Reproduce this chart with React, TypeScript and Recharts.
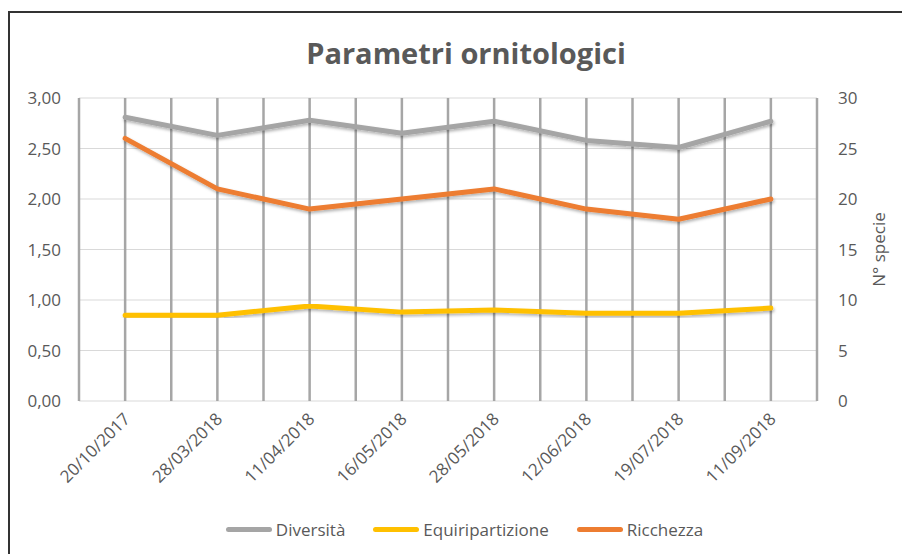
import React from 'react';
import { LineChart, Line, XAxis, YAxis, CartesianGrid, Legend } from 'recharts';

const dates = ['20/10/2017', '28/03/2018', '11/04/2018', '16/05/2018', '28/05/2018', '12/06/2018', '19/07/2018', '11/09/2018'];
const diversita = [2.81, 2.63, 2.78, 2.65, 2.77, 2.58, 2.51, 2.77];
const equiripartizione = [0.85, 0.85, 0.94, 0.88, 0.9, 0.87, 0.87, 0.92];
const ricchezza = [26, 21, 19, 20, 21, 19, 18, 20];
const leftTicks = [0, 0.5, 1, 1.5, 2, 2.5, 3];
const rightTicks = [0, 5, 10, 15, 20, 25, 30];
const seriesNames = ['Diversità', 'Equiripartizione', 'Ricchezza'];
const seriesColors = ['#A5A5A5', '#FFC000', '#ED7D31'];

const data = dates.map((d, i) => ({
  idx: i,
  date: d,
  diversita: diversita[i],
  equiripartizione: equiripartizione[i],
  ricchezza: ricchezza[i],
}));
const catTicks = dates.map((_, i) => i);
const gridTicks = dates.flatMap((_, i) => [i - 0.5, i]).concat([dates.length - 0.5]);

const FONT = "'Open Sans', sans-serif";
const TXT = '#595959';

const XTick = (props: any) => {
  const { x, y, payload } = props;
  return (
    <g transform={`translate(${x + 6},${y - 11})`}>
      <text x={0} y={0} textAnchor="end" transform="rotate(-45)" fill={TXT} fontSize={17} fontFamily={FONT}>
        {dates[payload.value]}
      </text>
    </g>
  );
};

const LegendContent = () => (
  <div style={{ display: 'flex', justifyContent: 'center', alignItems: 'center', height: 24, paddingLeft: 17, fontFamily: FONT, fontSize: 17, color: TXT }}>
    {seriesNames.map((n, i) => (
      <div key={n} style={{ display: 'flex', alignItems: 'center', marginRight: i < seriesNames.length - 1 ? 28 : 0 }}>
        <div style={{ width: 46, height: 5, borderRadius: 3, background: seriesColors[i], marginRight: 4 }} />
        <span>{n}</span>
      </div>
    ))}
  </div>
);

export default function App() {
  return (
    <div>
      <style>{'body{margin:0;overflow:hidden;background:#fff}'}</style>
      <div
        style={{
          position: 'absolute',
          left: 8,
          top: 11,
          width: 900,
          height: 560,
          borderTop: '2px solid #333',
          borderLeft: '2px solid #333',
          background: '#fff',
        }}
      >
        <div
          style={{
            position: 'absolute',
            left: -10,
            top: 20,
            width: 932,
            textAlign: 'center',
            fontFamily: FONT,
            fontWeight: 700,
            fontSize: 29,
            lineHeight: '40px',
            color: TXT,
          }}
        >
          Parametri ornitologici
        </div>
        <LineChart width={892} height={541} data={data} margin={{ top: 85, right: 0, left: 0, bottom: 13 }}>
          <defs>
            <filter id="lineShadow" x="-10%" y="-20%" width="120%" height="150%">
              <feDropShadow dx="1" dy="2" stdDeviation="1.5" floodColor="#000" floodOpacity="0.3" />
            </filter>
          </defs>
          <CartesianGrid yAxisId="left" xAxisId="main" vertical={false} stroke="#D9D9D9" strokeWidth={1} />
          <CartesianGrid yAxisId="left" xAxisId="grid" horizontal={false} stroke="#A6A6A6" strokeWidth={2.5} />
          <XAxis
            xAxisId="main"
            type="number"
            dataKey="idx"
            domain={[-0.5, dates.length - 0.5]}
            ticks={catTicks}
            interval={0}
            tick={<XTick />}
            tickLine={false}
            axisLine={false}
            tickSize={0}
            tickMargin={0}
            height={116}
          />
          <XAxis xAxisId="grid" type="number" dataKey="idx" domain={[-0.5, dates.length - 0.5]} ticks={gridTicks} hide />
          <YAxis
            yAxisId="left"
            orientation="left"
            domain={[0, 3]}
            ticks={leftTicks}
            width={69}
            tickLine={false}
            axisLine={false}
            tickSize={0}
            tickMargin={18}
            tickFormatter={(v: number) => v.toFixed(2).replace('.', ',')}
            tick={{ fill: TXT, fontSize: 17, fontFamily: FONT }}
          />
          <YAxis
            yAxisId="right"
            orientation="right"
            domain={[0, 30]}
            ticks={rightTicks}
            width={85}
            tickLine={false}
            axisLine={false}
            tickSize={0}
            tickMargin={21}
            tick={{ fill: TXT, fontSize: 17, fontFamily: FONT, textAnchor: 'start' }}
            label={{
              content: (p: any) => {
                const vb = p.viewBox || {};
                const cx = vb.x + vb.width / 2 + 19;
                const cy = vb.y + vb.height / 2;
                return (
                  <text x={cx} y={cy} transform={`rotate(-90, ${cx}, ${cy})`} textAnchor="middle" dominantBaseline="central" fill={TXT} fontSize={17} fontFamily={FONT}>
                    N° specie
                  </text>
                );
              },
            }}
          />
          <Legend verticalAlign="bottom" height={24} content={<LegendContent />} />
          <Line xAxisId="main" yAxisId="left" type="linear" dataKey="diversita" name={seriesNames[0]} stroke={seriesColors[0]} strokeWidth={5} dot={false} activeDot={false} strokeLinecap="round" strokeLinejoin="round" filter="url(#lineShadow)" isAnimationActive={false} />
          <Line xAxisId="main" yAxisId="left" type="linear" dataKey="equiripartizione" name={seriesNames[1]} stroke={seriesColors[1]} strokeWidth={5} dot={false} activeDot={false} strokeLinecap="round" strokeLinejoin="round" filter="url(#lineShadow)" isAnimationActive={false} />
          <Line xAxisId="main" yAxisId="right" type="linear" dataKey="ricchezza" name={seriesNames[2]} stroke={seriesColors[2]} strokeWidth={5} dot={false} activeDot={false} strokeLinecap="round" strokeLinejoin="round" filter="url(#lineShadow)" isAnimationActive={false} />
        </LineChart>
      </div>
    </div>
  );
}
